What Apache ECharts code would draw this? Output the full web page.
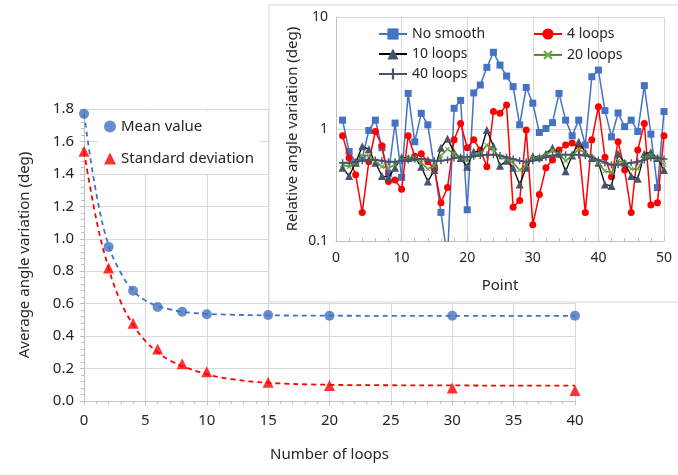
<!DOCTYPE html>
<html>
<head>
<meta charset="utf-8">
<script src="https://cdn.jsdelivr.net/npm/echarts@6/dist/echarts.min.js"></script>
<style>
  html, body { margin: 0; padding: 0; background: #fff; }
  #chart { width: 678px; height: 475px; }
</style>
</head>
<body>
<div id="chart"></div>
<script>
// 主图数据：循环次数与平均角度变化
var loops = [0, 2, 4, 6, 8, 10, 15, 20, 30, 40];
var meanValue = [1.77, 0.95, 0.68, 0.58, 0.55, 0.535, 0.53, 0.525, 0.525, 0.525];
var stdDev = [1.54, 0.82, 0.48, 0.32, 0.23, 0.18, 0.115, 0.095, 0.08, 0.065];

// 趋势线
var fitX = [0, 1, 2, 3, 4, 5, 6, 7, 8, 10, 12, 15, 20, 25, 30, 35, 40];
var meanFit = [1.77, 1.28, 0.96, 0.79, 0.68, 0.62, 0.585, 0.565, 0.55, 0.537, 0.532, 0.528, 0.526, 0.525, 0.525, 0.525, 0.525];
var stdFit = [1.54, 1.12, 0.82, 0.61, 0.47, 0.37, 0.30, 0.25, 0.215, 0.165, 0.135, 0.112, 0.10, 0.097, 0.096, 0.095, 0.095];

// 小图数据：每个点的相对角度变化
var noSmooth = [1.2, 0.63, 0.5, 0.55, 0.97, 1.2, 0.68, 0.4, 1.13, 0.37,
                2.08, 0.77, 1.38, 1.09, 0.45, 0.18, 0.07, 1.53, 1.8, 0.19,
                2.1, 2.47, 3.55, 4.84, 3.72, 2.97, 2.39, 1.09, 2.35, 1.7,
                0.93, 1.01, 1.14, 2.08, 1.2, 0.87, 1.2, 0.72, 2.93, 3.36,
                1.46, 0.85, 1.39, 1.05, 1.2, 0.95, 2.44, 0.9, 0.3, 1.43];
var loops4 = [0.87, 0.55, 0.39, 0.18, 0.51, 0.95, 0.71, 0.34, 0.35, 0.29,
              0.87, 0.57, 0.6, 0.51, 0.44, 0.22, 0.3, 0.8, 1.12, 0.68,
              0.8, 0.65, 0.46, 1.43, 1.38, 1.64, 0.2, 0.23, 0.98, 0.14,
              0.26, 0.45, 0.53, 0.65, 0.72, 0.75, 0.7, 0.18, 0.8, 1.58,
              0.56, 0.375, 0.77, 0.43, 0.18, 0.65, 1.12, 0.21, 0.22, 0.87];
var loops10 = [0.45, 0.38, 0.5, 0.7, 0.66, 0.5, 0.38, 0.37, 0.45, 0.56,
               0.55, 0.56, 0.46, 0.34, 0.43, 0.68, 0.82, 0.62, 0.55, 0.46,
               0.63, 0.62, 0.98, 0.7, 0.47, 0.52, 0.45, 0.32, 0.45, 0.57,
               0.56, 0.6, 0.68, 0.6, 0.42, 0.58, 0.77, 0.62, 0.55, 0.5,
               0.32, 0.31, 0.6, 0.5, 0.38, 0.36, 0.6, 0.62, 0.55, 0.43];
var loops20 = [0.48, 0.46, 0.5, 0.58, 0.58, 0.52, 0.46, 0.45, 0.48, 0.53,
               0.55, 0.55, 0.5, 0.44, 0.47, 0.58, 0.66, 0.6, 0.56, 0.52,
               0.58, 0.6, 0.72, 0.66, 0.55, 0.54, 0.5, 0.43, 0.48, 0.55,
               0.56, 0.59, 0.64, 0.6, 0.52, 0.58, 0.66, 0.61, 0.56, 0.5,
               0.42, 0.41, 0.52, 0.5, 0.44, 0.44, 0.55, 0.58, 0.55, 0.48];
var loops40 = [0.5, 0.5, 0.51, 0.52, 0.53, 0.53, 0.52, 0.51, 0.51, 0.52,
               0.53, 0.54, 0.54, 0.53, 0.52, 0.52, 0.53, 0.55, 0.56, 0.56,
               0.57, 0.58, 0.59, 0.59, 0.58, 0.56, 0.54, 0.52, 0.51, 0.52,
               0.54, 0.56, 0.58, 0.59, 0.59, 0.59, 0.59, 0.58, 0.56, 0.53,
               0.5, 0.48, 0.48, 0.49, 0.5, 0.51, 0.53, 0.55, 0.55, 0.54];

var FONT = 'Noto Sans';
var TXT = '#262626';

function pairs(xs, ys) {
    var out = [];
    for (var i = 0; i < ys.length; i++) out.push([xs[i], ys[i]]);
    return out;
}
function pointPairs(ys) {
    var out = [];
    for (var i = 0; i < ys.length; i++) out.push([i + 1, ys[i]]);
    return out;
}

var plusPath = 'path://M4,0H6V4H10V6H6V10H4V6H0V4H4Z';

var myChart = echarts.init(document.getElementById('chart'));
var option = {
    animation: false,
    textStyle: { fontFamily: FONT },
    graphic: [{
        type: 'rect',
        z: 5,
        shape: { x: 269, y: 5, width: 420, height: 297 },
        style: { fill: '#fff', stroke: '#d9d9d9', lineWidth: 1 }
    }],
    legend: [{
        left: 98, top: 111,
        orient: 'vertical',
        itemGap: 17,
        itemWidth: 12, itemHeight: 12,
        padding: [8, 6, 8, 6],
        backgroundColor: '#fff',
        textStyle: { fontSize: 15, color: TXT, fontFamily: FONT },
        data: [{ name: 'Mean value', icon: 'circle' }, { name: 'Standard deviation', icon: 'triangle' }]
    }, {
        left: 373, top: 22, z: 15,
        orient: 'vertical',
        itemGap: 6,
        itemWidth: 28, itemHeight: 14,
        textStyle: { fontSize: 14, color: TXT, fontFamily: FONT },
        data: ['No smooth', '10 loops', '40 loops']
    }, {
        left: 528, top: 22, z: 15,
        orient: 'vertical',
        itemGap: 6,
        itemWidth: 28, itemHeight: 14,
        textStyle: { fontSize: 14, color: TXT, fontFamily: FONT },
        data: ['4 loops', '20 loops']
    }],
    grid: [
        { left: 84, right: 103, top: 109, bottom: 74 },
        { left: 336, right: 14, top: 17, bottom: 234, z: 10 }
    ],
    xAxis: [{
        type: 'value', gridIndex: 0,
        min: 0, max: 40, interval: 5,
        name: 'Number of loops', nameLocation: 'middle', nameGap: 46,
        nameTextStyle: { fontSize: 15, color: TXT },
        axisLine: { lineStyle: { color: '#bfbfbf' } },
        axisTick: { show: true, length: 4, lineStyle: { color: '#bfbfbf' } },
        minorTick: { show: true, splitNumber: 5, length: 3, lineStyle: { color: '#bfbfbf' } },
        axisLabel: { fontSize: 15, color: TXT, margin: 12 },
        splitLine: { lineStyle: { color: '#d9d9d9' } }
    }, {
        type: 'value', gridIndex: 1, z: 10,
        min: 0, max: 50, interval: 10,
        name: 'Point', nameLocation: 'middle', nameGap: 37,
        nameTextStyle: { fontSize: 15, color: TXT },
        axisLine: { onZero: false, lineStyle: { color: '#bfbfbf' } },
        axisTick: { show: true, inside: true, length: 4, lineStyle: { color: '#bfbfbf' } },
        minorTick: { show: true, splitNumber: 5, length: 3, lineStyle: { color: '#bfbfbf' } },
        axisLabel: { fontSize: 14, color: TXT, margin: 10 },
        splitLine: { lineStyle: { color: '#d9d9d9' } }
    }],
    yAxis: [{
        type: 'value', gridIndex: 0,
        min: 0, max: 1.8, interval: 0.2,
        name: 'Average angle variation (deg)', nameLocation: 'middle', nameGap: 52,
        nameTextStyle: { fontSize: 15, color: TXT },
        axisLine: { show: true, lineStyle: { color: '#bfbfbf' } },
        axisTick: { show: true, length: 4, lineStyle: { color: '#bfbfbf' } },
        minorTick: { show: true, splitNumber: 5, length: 3, lineStyle: { color: '#bfbfbf' } },
        axisLabel: {
            fontSize: 15, color: TXT, margin: 10,
            formatter: function (v) { return v.toFixed(1); }
        },
        splitLine: { lineStyle: { color: '#d9d9d9' } }
    }, {
        type: 'log', gridIndex: 1, z: 10,
        min: 0.1, max: 10, logBase: 10,
        name: 'Relative angle variation (deg)', nameLocation: 'middle', nameGap: 36,
        nameTextStyle: { fontSize: 15, color: TXT },
        axisLine: { show: true, lineStyle: { color: '#bfbfbf' } },
        axisTick: { show: false },
        axisLabel: { fontSize: 14, color: TXT, margin: 8 },
        splitLine: { lineStyle: { color: '#d9d9d9' } }
    }],
    series: [
        {
            name: 'meanFit', type: 'line', xAxisIndex: 0, yAxisIndex: 0,
            data: pairs(fitX, meanFit), smooth: 0.4, showSymbol: false,
            lineStyle: { color: '#4472c4', width: 1.8, type: [5, 4] }, z: 2
        },
        {
            name: 'stdFit', type: 'line', xAxisIndex: 0, yAxisIndex: 0,
            data: pairs(fitX, stdFit), smooth: 0.4, showSymbol: false,
            lineStyle: { color: '#ff0000', width: 1.8, type: [5, 4] }, z: 2
        },
        {
            name: 'Mean value', type: 'scatter', xAxisIndex: 0, yAxisIndex: 0,
            data: pairs(loops, meanValue), symbol: 'circle', symbolSize: 10,
            itemStyle: { color: '#4472c4' }, z: 3
        },
        {
            name: 'Standard deviation', type: 'scatter', xAxisIndex: 0, yAxisIndex: 0,
            data: pairs(loops, stdDev), symbol: 'triangle', symbolSize: 11,
            itemStyle: { color: '#ff0000' }, z: 3
        },
        {
            name: 'No smooth', type: 'line', xAxisIndex: 1, yAxisIndex: 1,
            data: pointPairs(noSmooth), symbol: 'rect', symbolSize: 7, clip: true,
            lineStyle: { color: '#4472c4', width: 1.5 },
            itemStyle: { color: '#4472c4' }, z: 12
        },
        {
            name: '4 loops', type: 'line', xAxisIndex: 1, yAxisIndex: 1,
            data: pointPairs(loops4), symbol: 'circle', symbolSize: 7, clip: true,
            lineStyle: { color: '#ff0000', width: 1.5 },
            itemStyle: { color: '#ff0000' }, z: 13
        },
        {
            name: '10 loops', type: 'line', xAxisIndex: 1, yAxisIndex: 1,
            data: pointPairs(loops10), symbol: 'triangle', symbolSize: 8, clip: true,
            lineStyle: { color: '#000000', width: 1.3 },
            itemStyle: { color: '#44546a' }, z: 14
        },
        {
            name: '20 loops', type: 'line', xAxisIndex: 1, yAxisIndex: 1,
            data: pointPairs(loops20), symbol: plusPath, symbolSize: 6, symbolRotate: 45, clip: true,
            lineStyle: { color: '#548235', width: 1.5 },
            itemStyle: { color: '#70ad47' }, z: 15
        },
        {
            name: '40 loops', type: 'line', xAxisIndex: 1, yAxisIndex: 1,
            data: pointPairs(loops40), symbol: plusPath, symbolSize: 7, clip: true,
            lineStyle: { color: '#44546a', width: 2 },
            itemStyle: { color: '#44546a' }, z: 16
        }
    ]
};
myChart.setOption(option);
</script>
</body>
</html>
